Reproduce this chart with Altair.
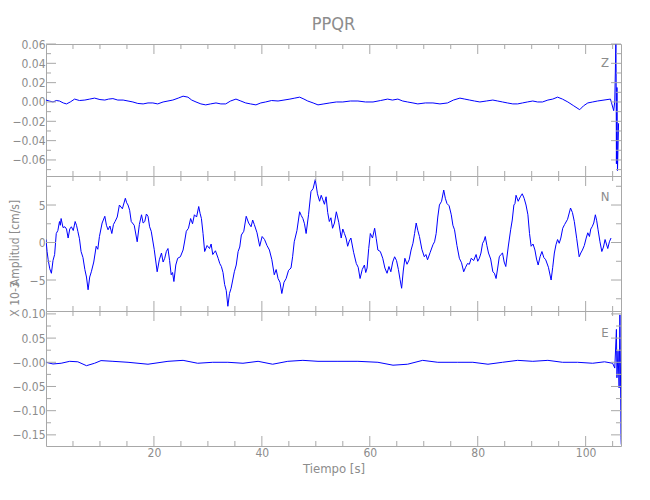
import altair as alt
import pandas as pd

# ---------------- data ----------------
# Z component (cm/s)
z_t = [0.0, 0.6, 1.3, 1.9, 2.5, 3.2, 3.8, 4.5, 5.3, 6.2,
       7.2, 8.1, 9.0, 10.0, 10.9, 11.6, 12.4, 13.3, 14.3, 15.2,
       16.1, 17.0, 18.0, 18.9, 19.8, 20.7, 21.7, 22.6, 23.5, 24.5,
       25.4, 26.3, 27.0, 27.8, 28.7, 29.6, 30.5, 31.5, 32.4, 33.3,
       34.2, 35.2, 36.1, 37.0, 37.9, 38.9, 39.8, 40.7, 41.8, 43.0,
       44.1, 45.2, 46.1, 47.0, 47.8, 48.5, 49.5, 50.4, 51.5, 52.6,
       53.8, 55.0, 56.4, 57.8, 59.2, 60.6, 62.0, 63.3, 64.2, 65.2,
       66.1, 67.0, 68.0, 68.9, 70.3, 71.7, 73.0, 74.4, 75.5, 76.7,
       77.6, 78.5, 79.4, 80.4, 81.6, 82.8, 83.7, 84.6, 85.5, 86.5,
       87.4, 88.3, 89.2, 90.2, 91.1, 92.0, 93.0, 93.9, 94.8, 95.7,
       96.7, 97.8, 98.9, 99.6, 100.4, 101.3, 102.2, 103.4, 104.6, 105.2,
       105.4, 105.6, 105.65, 105.7, 105.8, 105.9, 106.1]
z_v = [0.002, 0.001, 0.0, 0.0015, 0.001, -0.001, -0.002, 0.0, 0.003, 0.0015,
       0.002, 0.003, 0.004, 0.0025, 0.002, 0.003, 0.0035, 0.002, 0.002, 0.001,
       0.0, -0.0015, -0.002, -0.001, -0.001, -0.002, 0.0, 0.001, 0.002, 0.004,
       0.006, 0.005, 0.002, 0.0, -0.002, -0.003, -0.002, -0.001, -0.002, -0.002,
       0.001, 0.003, 0.001, -0.001, -0.002, -0.003, -0.001, 0.0, 0.0015, 0.001,
       0.002, 0.003, 0.004, 0.005, 0.003, 0.001, -0.001, -0.003, -0.002, -0.001,
       0.0, 0.0, 0.001, 0.001, 0.0, 0.0, 0.0015, 0.003, 0.002, 0.003,
       0.001, 0.0, -0.001, -0.002, -0.001, -0.001, -0.002, -0.001, 0.002, 0.004,
       0.003, 0.002, 0.001, 0.0, 0.001, 0.002, 0.001, 0.0, -0.001, -0.002,
       -0.002, -0.001, 0.0, 0.001, 0.0, 0.0, 0.002, 0.003, 0.005, 0.003,
       0.0, -0.004, -0.008, -0.004, -0.001, 0.0, 0.001, 0.002, 0.003, -0.009,
       0.001, 0.06, 0.029, -0.064, 0.015, -0.071, -0.022]

# N component (x 10^-3 cm/s)
n_t = [0.0, 0.2, 0.4, 0.7, 1.0, 1.3, 1.6, 1.75, 1.9, 2.2,
       2.5, 2.65, 2.8, 3.15, 3.5, 3.8, 4.1, 4.4, 4.7, 5.05,
       5.4, 5.65, 5.9, 6.2, 6.5, 6.85, 7.2, 7.5, 7.8, 8.1,
       8.4, 8.85, 9.3, 9.6, 9.9, 10.4, 10.9, 11.2, 11.5, 11.85,
       12.2, 12.5, 12.8, 13.2, 13.6, 14.15, 14.7, 14.95, 15.2, 15.5,
       15.8, 16.35, 16.9, 17.3, 17.7, 18.0, 18.3, 18.6, 18.9, 19.2,
       19.5, 20.05, 20.6, 21.0, 21.4, 21.7, 22.0, 22.3, 22.6, 22.9,
       23.2, 23.45, 23.7, 24.05, 24.4, 24.9, 25.4, 25.7, 26.0, 26.4,
       26.8, 27.15, 27.5, 27.9, 28.3, 28.55, 28.8, 29.1, 29.4, 29.85,
       30.3, 30.6, 30.9, 31.4, 31.9, 32.2, 32.5, 32.8, 33.1, 33.4,
       33.7, 34.0, 34.3, 34.6, 34.9, 35.25, 35.6, 35.9, 36.2, 36.65,
       37.1, 37.55, 38.0, 38.3, 38.6, 39.1, 39.6, 40.05, 40.5, 40.95,
       41.4, 41.85, 42.3, 42.65, 43.0, 43.35, 43.7, 44.1, 44.5, 44.95,
       45.4, 45.7, 46.0, 46.5, 47.0, 47.3, 47.6, 47.9, 48.2, 48.65,
       49.1, 49.5, 49.9, 50.3, 50.7, 51.0, 51.3, 51.6, 51.9, 52.2,
       52.5, 52.8, 53.1, 53.45, 53.8, 54.25, 54.7, 55.0, 55.3, 55.6,
       55.9, 56.2, 56.5, 57.0, 57.5, 57.85, 58.2, 58.6, 59.0, 59.25,
       59.5, 59.8, 60.1, 60.5, 60.9, 61.2, 61.5, 61.95, 62.4, 62.8,
       63.2, 63.55, 63.9, 64.25, 64.6, 64.95, 65.3, 65.6, 65.9, 66.2,
       66.5, 66.9, 67.3, 67.65, 68.0, 68.3, 68.6, 68.9, 69.2, 69.65,
       70.1, 70.4, 70.7, 71.2, 71.7, 72.0, 72.3, 72.6, 72.9, 73.3,
       73.7, 74.0, 74.3, 74.7, 75.1, 75.4, 75.7, 76.15, 76.6, 77.0,
       77.4, 77.75, 78.1, 78.45, 78.8, 79.25, 79.7, 80.0, 80.3, 80.6,
       80.9, 81.15, 81.4, 81.7, 82.0, 82.4, 82.8, 83.1, 83.4, 83.7,
       84.0, 84.3, 84.6, 84.9, 85.2, 85.65, 86.1, 86.4, 86.7, 86.9,
       87.1, 87.5, 87.9, 88.25, 88.6, 88.95, 89.3, 89.6, 89.9, 90.25,
       90.6, 90.9, 91.2, 91.55, 91.9, 92.25, 92.6, 93.1, 93.6, 93.9,
       94.2, 94.5, 94.8, 95.1, 95.4, 95.75, 96.1, 96.65, 97.2, 97.55,
       97.9, 98.35, 98.8, 99.1, 99.4, 99.75, 100.1, 100.4, 100.7, 100.95,
       101.2, 101.5, 101.8, 102.05, 102.3, 102.65, 103.0, 103.3, 103.6, 103.85,
       104.1, 104.4, 104.7]
n_v = [0.4, -1.2, -2.3, -3.5, -4.1, -2.4, -1.6, -0.2, 1.2, 1.6,
       2.8, 2.3, 3.2, 2.0, 2.1, 1.8, 0.6, 1.8, 2.1, 1.6,
       2.8, 2.3, 1.5, 0.5, -1.2, -2.0, -3.6, -4.6, -6.3, -4.6,
       -3.9, -2.6, -0.5, -0.9, 0.8, 2.6, 3.5, 2.3, 1.7, 2.2,
       1.2, 2.4, 2.8, 3.4, 5.0, 4.5, 5.9, 5.3, 5.0, 4.3,
       2.8, 2.3, 0.1, 2.4, 3.7, 2.6, 2.8, 3.8, 3.5, 2.1,
       1.5, -0.9, -3.9, -2.3, -1.4, -2.6, -2.1, -1.2, -0.8, -2.4,
       -4.3, -4.0, -5.2, -3.0, -2.1, -1.9, -1.0, 0.2, 1.5, 1.9,
       3.2, 2.5, 3.7, 3.4, 4.8, 3.9, 3.2, 1.2, -1.2, -0.4,
       -0.8, -0.2, -1.6, -1.1, -2.1, -2.8, -3.2, -4.0, -5.6, -6.4,
       -8.5, -6.8, -6.1, -5.0, -3.9, -3.0, -1.2, -0.6, 1.0, 1.5,
       3.5, 2.6, 2.1, 3.0, 2.4, 1.3, -0.5, 0.8, 0.4, -0.4,
       -1.0, -2.3, -4.3, -3.6, -4.8, -5.3, -6.8, -5.3, -4.8, -3.7,
       -3.4, -1.9, 0.1, 1.6, 4.1, 3.6, 3.2, 2.5, 1.2, 3.7,
       6.8, 7.2, 8.4, 6.5, 5.5, 6.3, 5.7, 5.1, 6.1, 4.0,
       2.8, 3.3, 1.9, 2.6, 4.1, 2.7, 0.6, 1.8, 1.2, 0.6,
       -0.5, 0.2, 0.6, -1.3, -2.8, -3.3, -4.8, -3.6, -3.0, -4.0,
       -3.4, -0.8, 1.2, 0.6, 1.9, 0.5, -1.0, -1.2, -2.1, -3.4,
       -4.1, -3.2, -3.9, -2.6, -1.9, -2.4, -3.6, -4.9, -6.1, -3.8,
       -2.1, -2.9, -2.3, -1.0, -0.1, 1.2, 2.6, 1.6, 0.8, -0.9,
       -1.9, -1.6, -2.3, -1.3, -0.3, 0.1, 1.2, 3.4, 5.0, 5.5,
       7.0, 5.9, 5.2, 4.9, 3.7, 2.3, 1.7, -0.4, -2.1, -2.7,
       -3.9, -3.3, -2.8, -2.9, -2.1, -2.4, -1.6, -2.5, -2.1, -1.4,
       -0.1, 0.2, 0.8, -0.4, -1.4, -2.2, -3.9, -4.1, -4.8, -3.4,
       -1.9, -1.6, -1.4, -2.6, -3.2, -0.6, 1.7, 3.0, 5.0, 5.2,
       6.3, 5.5, 6.1, 6.5, 5.9, 5.0, 3.7, 1.2, -0.5, -0.2,
       -1.0, -2.2, -3.0, -1.9, -1.2, -2.0, -2.3, -3.3, -5.0, -3.3,
       -1.4, -0.3, 0.4, -0.1, 0.6, 1.9, 2.4, 3.1, 4.6, 4.0,
       2.8, 0.5, -1.9, -1.4, -1.0, -0.4, 0.6, 1.3, 0.8, 1.8,
       2.1, 2.6, 3.7, 2.9, 1.7, 0.1, -1.2, -0.6, 0.4, -0.2,
       -0.8, 0.1, 0.6]

# E component (cm/s)
e_t = [0.0, 1.3, 2.8, 4.4, 5.9, 7.5, 9.0, 10.2, 12.4, 15.2,
       18.9, 22.6, 25.4, 28.1, 30.9, 33.7, 36.5, 39.3, 42.0, 44.8,
       47.6, 50.4, 54.1, 57.8, 61.5, 64.3, 67.0, 69.8, 72.6, 76.3,
       79.1, 81.9, 84.6, 87.4, 90.2, 93.0, 95.7, 98.5, 101.3, 103.5,
       105.0, 105.4, 105.7, 105.8, 106.0, 106.2, 106.35, 106.5, 106.55, 106.6]
e_v = [0.0, -0.0035, -0.002, 0.002, 0.001, -0.007, -0.002, 0.0035, 0.002, 0.0,
       -0.004, 0.002, 0.004, -0.002, 0.0, 0.0, -0.002, 0.002, -0.004, 0.002,
       0.004, 0.002, 0.002, 0.002, 0.0, -0.006, -0.004, 0.004, 0.0, 0.0,
       0.0, -0.004, 0.0, 0.004, 0.002, 0.004, 0.0, 0.0, -0.002, 0.001,
       -0.002, -0.012, 0.068, -0.032, 0.023, -0.053, 0.098, -0.08, -0.156, -0.17]

# axis tick values / labels
x_major = [20, 40, 60, 80, 100]
x_minor = [5, 10, 15, 25, 30, 35, 45, 50, 55, 65, 70, 75, 85, 90, 95, 105]
z_major = [-0.06, -0.04, -0.02, 0.0, 0.02, 0.04, 0.06]
z_minor = [-0.07, -0.05, -0.03, -0.01, 0.01, 0.03, 0.05]
n_major = [-5, 0, 5]
n_minor = [-7.5, -2.5, 2.5, 7.5]
e_major = [-0.15, -0.10, -0.05, 0.0, 0.05, 0.10]
e_minor = [-0.125, -0.075, -0.025, 0.025, 0.075]

# ---------------- styling ----------------
W = 575
H_Z, H_N, H_E = 132, 135, 135
X_MAX = 106.55
GRAY = "#8c8c8c"
FRAME = "#a8a8a8"
BLUE = "#0000ff"
FONT = "Liberation Sans Narrow, DejaVu Sans Condensed, DejaVu Sans"

x_scale = alt.Scale(domain=[0, X_MAX], nice=False, zero=False)


def tick_layers(ymaj, ymin, yscale, yaxis, xaxis, H):
    layers = []
    for vals, L in ((x_major, 10), (x_minor, 5)):
        base = alt.Chart(pd.DataFrame({"t": vals})).mark_rule(color=FRAME, strokeWidth=1)
        xx = alt.X("t:Q", scale=x_scale, axis=xaxis)
        layers.append(base.encode(x=xx, y=alt.value(H), y2=alt.value(H - L)))
        layers.append(base.encode(x=xx, y=alt.value(0), y2=alt.value(L)))
    for vals, L in ((ymaj, 10), (ymin, 5)):
        base = alt.Chart(pd.DataFrame({"v": vals})).mark_rule(color=FRAME, strokeWidth=1)
        yy = alt.Y("v:Q", scale=yscale, axis=yaxis)
        layers.append(base.encode(y=yy, x=alt.value(0), x2=alt.value(L)))
        layers.append(base.encode(y=yy, x=alt.value(W), x2=alt.value(W - L)))
    return layers


def label_layer(txt, ypix):
    return alt.Chart(pd.DataFrame({"lab": [txt]})).mark_text(
        font=FONT, fontSize=13, color=GRAY, align="center", baseline="middle"
    ).encode(text="lab:N", x=alt.value(559), y=alt.value(ypix))


def panel(t, v, yscale, yaxis, xaxis, H, ymaj, ymin, lab, labpix, extra=None, title=None):
    df = pd.DataFrame({"t": t, "v": v})
    line = alt.Chart(df).mark_line(color=BLUE, strokeWidth=1, clip=True).encode(
        x=alt.X("t:Q", scale=x_scale, axis=xaxis),
        y=alt.Y("v:Q", scale=yscale, axis=yaxis),
    )
    layers = [line] + tick_layers(ymaj, ymin, yscale, yaxis, xaxis, H) + [label_layer(lab, labpix)]
    if extra:
        layers += extra
    props = dict(width=W, height=H)
    if title is not None:
        props["title"] = title
    return alt.layer(*layers).properties(**props)


z_scale = alt.Scale(domain=[-0.0766, 0.06], nice=False, zero=False)
n_scale = alt.Scale(domain=[-9.13, 8.87], nice=False, zero=False)
e_scale = alt.Scale(domain=[-0.173, 0.106], nice=False, zero=False)

z_axis = alt.Axis(values=z_major, format=".2f", title=None)
n_axis = alt.Axis(values=n_major, format="d", title=None)
e_axis = alt.Axis(values=e_major, title=None,
                  labelExpr="datum.value == 0 ? '\u22120.00' : format(datum.value, '.2f')")
x_axis_bottom = alt.Axis(values=x_major, format="d", title="Tiempo [s]",
                         labelPadding=1, titlePadding=4)

title = alt.TitleParams("PPQR", frame="group", anchor="middle", fontSize=18,
                        font=FONT, color=GRAY, fontWeight="normal", offset=4)

ytitle = [
    alt.Chart(pd.DataFrame({"lab": ["Amplitud [cm/s]"]})).mark_text(
        font=FONT, fontSize=12, color=GRAY, angle=270, align="center", baseline="middle"
    ).encode(text="lab:N", x=alt.value(-31), y=alt.value(67)),
    alt.Chart(pd.DataFrame({"lab": ["X 10-3"]})).mark_text(
        font=FONT, fontSize=12, color=GRAY, angle=270, align="center", baseline="middle"
    ).encode(text="lab:N", x=alt.value(-31), y=alt.value(123)),
]

pz = panel(z_t, z_v, z_scale, z_axis, None, H_Z, z_major, z_minor, "Z", 19, title=title)
pn = panel(n_t, n_v, n_scale, n_axis, None, H_N, n_major, n_minor, "N", 21, extra=ytitle)
pe = panel(e_t, e_v, e_scale, e_axis, x_axis_bottom, H_E, e_major, e_minor, "E", 22)

chart = alt.vconcat(pz, pn, pe, spacing=0, bounds="flush").properties(
    padding={"left": 0, "top": 7, "right": 5, "bottom": 5}
).configure_view(stroke=FRAME, strokeWidth=1).configure_axis(
    labelFont=FONT, labelFontSize=12, labelColor=GRAY,
    titleFont=FONT, titleFontSize=13, titleColor=GRAY, titleFontWeight="normal",
    grid=False, domain=False, ticks=False, tickSize=0, labelPadding=1,
    labelFlush=False, labelOverlap=False,
)

chart.save("out.html", embed_options={"renderer": "svg", "actions": False})
